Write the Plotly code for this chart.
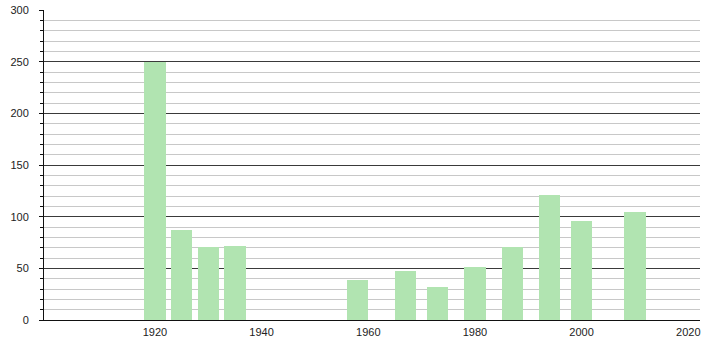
import plotly.graph_objects as go

years = [1920, 1925, 1930, 1935, 1958, 1967, 1973, 1980, 1987, 1994, 2000, 2010]
values = [250, 87, 71, 72, 39, 47, 32, 51, 71, 121, 96, 105]
x_ticks = [1920, 1940, 1960, 1980, 2000, 2020]
y_ticks = [0, 50, 100, 150, 200, 250, 300]

fig = go.Figure()
fig.add_trace(go.Bar(
    x=years, y=values, width=4,
    marker=dict(color="#b1e4b1", line=dict(width=0)),
    hoverinfo="x+y",
))

fig.update_layout(
    width=710, height=340,
    margin=dict(l=44, r=10, t=10, b=20, autoexpand=False),
    paper_bgcolor="white", plot_bgcolor="white",
    showlegend=False,
    font=dict(family="Liberation Sans, Arial, sans-serif", size=11, color="#222"),
    bargap=0,
)
fig.update_xaxes(
    range=[1899.2, 2022.2], automargin=False,
    tickvals=x_ticks, ticktext=[str(v) for v in x_ticks],
    showgrid=False, zeroline=False,
    showline=True, linecolor="#111", linewidth=1,
    ticks="", ticklabelstandoff=2,
)
fig.update_yaxes(
    range=[0, 300], automargin=False,
    tickvals=y_ticks, ticktext=[str(v) for v in y_ticks],
    showgrid=True, gridcolor="#3a3a3a", gridwidth=1,
    zeroline=False,
    showline=True, linecolor="#111", linewidth=1,
    ticks="outside", ticklen=4, tickcolor="#111",
    ticklabelstandoff=8,
    minor=dict(dtick=10, showgrid=True, gridcolor="#c8c8c8", gridwidth=1,
               ticks="outside", ticklen=3, tickcolor="#111"),
)

fig.write_html("out.html")
